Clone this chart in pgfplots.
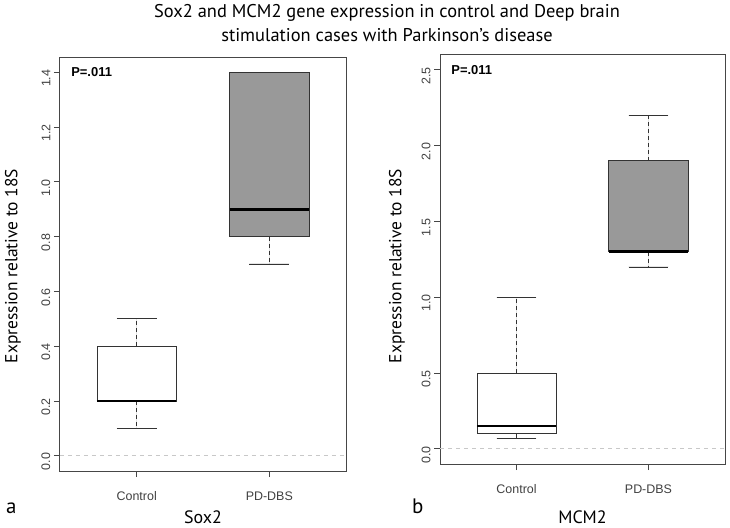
\documentclass[border=0pt]{standalone}
\usepackage{fontspec}
\setmainfont{PT Sans}
\newfontfamily\arialf{Liberation Sans}
\usepackage{pgfplots}
\usepgfplotslibrary{statistics}
\pgfplotsset{compat=1.18}
\definecolor{boxgray}{RGB}{153,153,153}
\definecolor{framecol}{RGB}{70,70,70}
\definecolor{zerocol}{RGB}{200,200,200}
\pgfplotsset{
  myboxes/.style={
    scale only axis,
    xmin=0.42, xmax=2.58,
    xtick={1,2}, xticklabels={Control,PD-DBS},
    xtick pos=lower, ytick pos=left,
    tick align=outside,
    major tick length=6bp,
    axis line style={framecol, line width=0.8bp},
    every tick/.style={framecol, line width=0.8bp},
    tick label style={font=\arialf\fontsize{12.5}{14}\selectfont, text=black!75},
    xticklabel style={yshift=-11bp},
    yticklabel style={rotate=90, anchor=south, xshift=-6bp, /pgf/number format/.cd, fixed, fixed zerofill, precision=1},
    /pgf/number format/assume math mode=true,
    boxplot/draw direction=y,
    boxplot/box extend=0.6,
    boxplot/whisker extend=0.3,
    boxplot/every median/.style={line width=2.6bp, black},
    boxplot/draw/lower whisker/.code={
      \draw[black!80, line width=0.8bp, dash pattern=on 4bp off 3bp]
        (boxplot box cs:\pgfplotsboxplotvalue{lower quartile},0.5) -- (boxplot box cs:\pgfplotsboxplotvalue{lower whisker},0.5);
      \draw[black!80, line width=0.8bp]
        (boxplot whisker cs:\pgfplotsboxplotvalue{lower whisker},0) -- (boxplot whisker cs:\pgfplotsboxplotvalue{lower whisker},1);
    },
    boxplot/draw/upper whisker/.code={
      \draw[black!80, line width=0.8bp, dash pattern=on 4bp off 3bp]
        (boxplot box cs:\pgfplotsboxplotvalue{upper quartile},0.5) -- (boxplot box cs:\pgfplotsboxplotvalue{upper whisker},0.5);
      \draw[black!80, line width=0.8bp]
        (boxplot whisker cs:\pgfplotsboxplotvalue{upper whisker},0) -- (boxplot whisker cs:\pgfplotsboxplotvalue{upper whisker},1);
    },
  }
}
\begin{document}
\begin{tikzpicture}
\path[use as bounding box] (0,0) rectangle (730bp,528bp);
% title
\node[anchor=base, font=\fontsize{18.5}{22}\selectfont] at (387bp,510bp) {Sox2 and MCM2 gene expression in control and Deep brain};
\node[anchor=base, font=\fontsize{18.5}{22}\selectfont] at (387bp,486bp) {stimulation cases with Parkinson’s disease};

% left panel
\begin{axis}[myboxes,
  at={(59.8bp,57bp)}, anchor=south west,
  width=286.4bp, height=414bp,
  ymin=-0.056, ymax=1.456,
  ytick={0,0.2,0.4,0.6,0.8,1.0,1.2,1.4},
]
\addplot[zerocol, line width=0.7bp, dash pattern=on 4bp off 4bp] coordinates {(0.42,0) (2.58,0)};
\addplot[draw=black!80, fill=white, line width=0.8bp,
  boxplot prepared={draw position=1, lower whisker=0.1, lower quartile=0.2, median=0.2, upper quartile=0.4, upper whisker=0.5}] coordinates {};
\addplot[draw=black!80, fill=boxgray, line width=0.8bp,
  boxplot prepared={draw position=2, lower whisker=0.7, lower quartile=0.8, median=0.9, upper quartile=1.4, upper whisker=1.4}] coordinates {};
\node[anchor=west, font=\arialf\bfseries\fontsize{13}{15}\selectfont] at (axis cs:0.48,1.4) {P=.011};
\end{axis}

% right panel
\begin{axis}[myboxes,
  at={(440bp,64bp)}, anchor=south west,
  width=285bp, height=409.3bp,
  ymin=-0.1, ymax=2.6,
  ytick={0,0.5,1.0,1.5,2.0,2.5},
]
\addplot[zerocol, line width=0.7bp, dash pattern=on 4bp off 4bp] coordinates {(0.42,0) (2.58,0)};
\addplot[draw=black!80, fill=white, line width=0.8bp,
  boxplot prepared={draw position=1, lower whisker=0.07, lower quartile=0.1, median=0.15, upper quartile=0.5, upper whisker=1.0}] coordinates {};
\addplot[draw=black!80, fill=boxgray, line width=0.8bp,
  boxplot prepared={draw position=2, lower whisker=1.2, lower quartile=1.3, median=1.3, upper quartile=1.9, upper whisker=2.2}] coordinates {};
\node[anchor=west, font=\arialf\bfseries\fontsize{13}{15}\selectfont] at (axis cs:0.48,2.5) {P=.011};
\end{axis}

% axis titles and panel letters
\node[rotate=90, font=\fontsize{17.5}{20}\selectfont] at (13bp,262bp) {Expression relative to 18S};
\node[rotate=90, font=\fontsize{17.5}{20}\selectfont] at (397bp,262bp) {Expression relative to 18S};
\node[anchor=base, font=\fontsize{18}{20}\selectfont] at (203bp,5bp) {Sox2};
\node[anchor=base, font=\fontsize{18}{20}\selectfont] at (582.5bp,5bp) {MCM2};
\node[anchor=base west, inner sep=0pt, font=\fontsize{21}{24}\selectfont] at (6bp,15bp) {a};
\node[anchor=base west, inner sep=0pt, font=\fontsize{21}{24}\selectfont] at (412bp,15bp) {b};
\end{tikzpicture}
\end{document}
